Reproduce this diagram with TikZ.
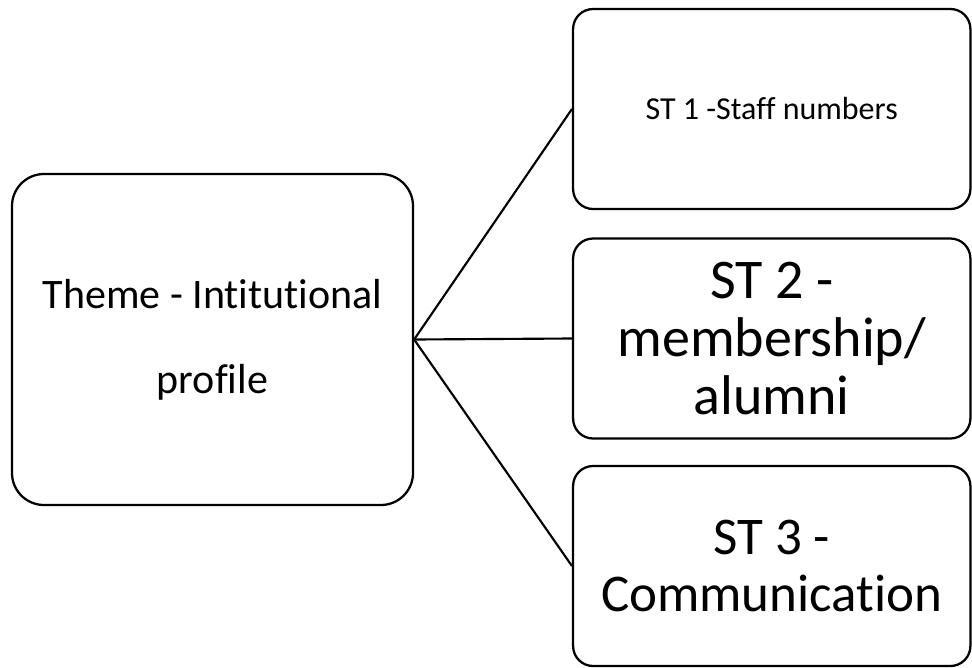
\documentclass[tikz,border=0pt]{standalone}
\usepackage{fontspec}
\setmainfont{Carlito}[Ligatures={NoCommon,NoContextual}]
\begin{document}
\begin{tikzpicture}[x=0.75pt,y=-0.75pt,
  box/.style={draw,line width=1.7pt,align=center,inner sep=0pt},
  thbox/.style={box,rounded corners=24pt,minimum width=300.75pt,minimum height=248.25pt,font=\fontsize{31.5pt}{63.75pt}\selectfont},
  stbox/.style={box,rounded corners=15pt,minimum width=298pt,minimum height=150pt,font=\fontsize{39.75pt}{42.75pt}\selectfont},
  link/.style={line width=1.6pt}]
\useasboundingbox (0,0) rectangle (972,668);

\draw (212.5,339.5) node (th) [thbox] {Theme - Intitutional\\profile};

\draw (771.75,109)   node (st1) [stbox,font=\fontsize{24pt}{29pt}\selectfont] {ST 1 -Staff numbers};
\draw[link] (th.east) -- (st1.west);

\draw (771.75,338.5) node (st2) [stbox,font=\fontsize{42pt}{43.5pt}\selectfont] {ST 2 -\\membership/\\alumni};
\draw[link] (th.east) -- (st2.west);

\draw (771.75,566)   node (st3) [stbox] {ST 3 -\\Communication};
\draw[link] (th.east) -- (st3.west);
\end{tikzpicture}
\end{document}
